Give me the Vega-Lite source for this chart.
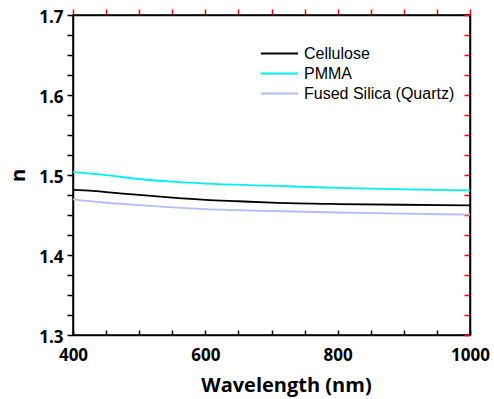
{
  "$schema": "https://vega.github.io/schema/vega-lite/v6.json",
  "autosize": "none",
  "width": 397,
  "height": 320,
  "padding": {"left": 73, "top": 15, "right": 24, "bottom": 64},
  "background": "white",
  "config": {
    "view": {"stroke": "black", "strokeWidth": 1.5},
    "axis": {
      "labelFont": "Open Sans", "labelFontWeight": 700, "labelFontSize": 17, "labelColor": "black",
      "titleFont": "Open Sans", "titleFontWeight": 700, "titleFontSize": 20, "titleColor": "black",
      "domainColor": "black", "domainWidth": 1.5, "grid": false
    }
  },
  "data": {"values": [
    {"wl": 400, "n": 1.4813, "material": "Cellulose"},
    {"wl": 430, "n": 1.4802, "material": "Cellulose"},
    {"wl": 450, "n": 1.4787, "material": "Cellulose"},
    {"wl": 475, "n": 1.4768, "material": "Cellulose"},
    {"wl": 500, "n": 1.4752, "material": "Cellulose"},
    {"wl": 550, "n": 1.4718, "material": "Cellulose"},
    {"wl": 600, "n": 1.4690, "material": "Cellulose"},
    {"wl": 650, "n": 1.4672, "material": "Cellulose"},
    {"wl": 700, "n": 1.4655, "material": "Cellulose"},
    {"wl": 800, "n": 1.4637, "material": "Cellulose"},
    {"wl": 900, "n": 1.4628, "material": "Cellulose"},
    {"wl": 1000, "n": 1.4620, "material": "Cellulose"},
    {"wl": 400, "n": 1.5035, "material": "PMMA"},
    {"wl": 450, "n": 1.4998, "material": "PMMA"},
    {"wl": 500, "n": 1.4950, "material": "PMMA"},
    {"wl": 550, "n": 1.4916, "material": "PMMA"},
    {"wl": 600, "n": 1.4893, "material": "PMMA"},
    {"wl": 700, "n": 1.4866, "material": "PMMA"},
    {"wl": 800, "n": 1.4838, "material": "PMMA"},
    {"wl": 900, "n": 1.4821, "material": "PMMA"},
    {"wl": 1000, "n": 1.4808, "material": "PMMA"},
    {"wl": 400, "n": 1.4696, "material": "Fused Silica (Quartz)"},
    {"wl": 450, "n": 1.4653, "material": "Fused Silica (Quartz)"},
    {"wl": 500, "n": 1.4623, "material": "Fused Silica (Quartz)"},
    {"wl": 550, "n": 1.4596, "material": "Fused Silica (Quartz)"},
    {"wl": 600, "n": 1.4573, "material": "Fused Silica (Quartz)"},
    {"wl": 700, "n": 1.4550, "material": "Fused Silica (Quartz)"},
    {"wl": 800, "n": 1.4531, "material": "Fused Silica (Quartz)"},
    {"wl": 900, "n": 1.4517, "material": "Fused Silica (Quartz)"},
    {"wl": 1000, "n": 1.4504, "material": "Fused Silica (Quartz)"}
  ]},
  "layer": [
    {
      "mark": {"type": "line", "strokeWidth": 1.8, "interpolate": "monotone", "clip": true},
      "encoding": {
        "x": {"field": "wl", "type": "quantitative", "scale": {"domain": [400, 1000], "nice": false},
          "axis": {"title": "Wavelength (nm)", "values": [400,450,500,550,600,650,700,750,800,850,900,950,1000],
            "format": "d",
            "labelExpr": "datum.value % 200 == 0 ? datum.label : ''",
            "ticks": true, "tickSize": -5, "tickColor": "black", "tickWidth": 1.5, "tickOpacity": 1,
            "labelPadding": 17, "labelFlush": false, "titleX": 213, "titlePadding": 12}},
        "y": {"field": "n", "type": "quantitative", "scale": {"domain": [1.3, 1.7], "nice": false, "zero": false},
          "axis": {"title": "n", "values": [1.3,1.325,1.35,1.375,1.4,1.425,1.45,1.475,1.5,1.525,1.55,1.575,1.6,1.625,1.65,1.675,1.7],
            "format": ".1f",
            "labelExpr": "round(datum.value*40) % 4 == 0 ? datum.label : ''",
            "ticks": true, "tickSize": 6, "tickColor": "black", "tickWidth": 1.5,
            "labelPadding": 4, "labelFlush": false, "titlePadding": 10, "labelBaseline": "middle", "labelOffset": 2}},
        "color": {"field": "material", "type": "nominal",
          "scale": {"domain": ["Cellulose", "PMMA", "Fused Silica (Quartz)"], "range": ["#000000", "#00f0f0", "#b4bcff"]},
          "legend": {"title": null, "orient": "none", "legendX": 198, "legendY": 30,
            "symbolType": "M-2.5,0H2.5", "symbolSize": 220, "symbolStrokeWidth": 1.8,
            "labelFont": "Liberation Sans", "labelFontSize": 16, "labelColor": "black",
            "labelOffset": 16, "rowPadding": 3, "padding": 0}}
      }
    },
    {
      "mark": {"type": "line", "opacity": 0},
      "encoding": {
        "x": {"field": "wl", "type": "quantitative",
          "axis": {"orient": "top", "title": null, "labels": false, "values": [400,450,500,550,600,650,700,750,800,850,900,950,1000],
            "ticks": true, "tickSize": 6, "tickColor": "red", "tickWidth": 1.5}},
        "y": {"field": "n", "type": "quantitative",
          "axis": {"orient": "right", "title": null, "labels": false, "values": [1.3,1.325,1.35,1.375,1.4,1.425,1.45,1.475,1.5,1.525,1.55,1.575,1.6,1.625,1.65,1.675,1.7],
            "ticks": true, "tickSize": -6, "tickColor": "red", "tickWidth": 1.5}},
        "detail": {"field": "material"}
      }
    }
  ],
  "resolve": {"axis": {"x": "independent", "y": "independent"}}
}
